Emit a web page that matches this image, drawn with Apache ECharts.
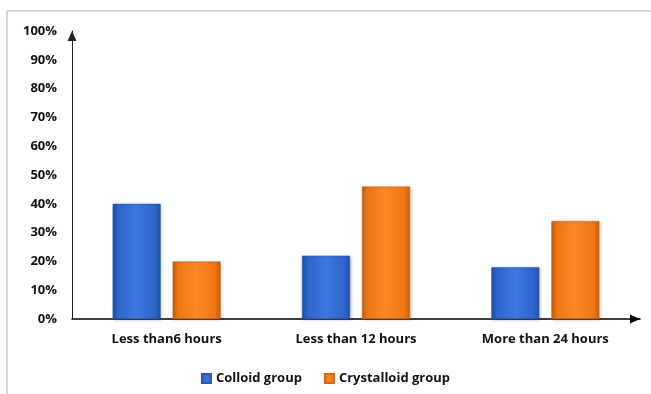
<!DOCTYPE html>
<html>
<head>
<meta charset="utf-8">
<script src="https://cdn.jsdelivr.net/npm/echarts@6/dist/echarts.min.js"></script>
<style>
  html, body { margin: 0; padding: 0; background: #fff; }
  #chart { width: 651px; height: 394px; }
</style>
</head>
<body>
<div id="chart"></div>
<script>
const categories = ['Less than6 hours', 'Less than 12 hours', 'More than 24 hours'];
const colloid = [40, 22, 18];
const crystalloid = [20, 46, 34];
const seriesNames = ['Colloid group', 'Crystalloid group'];

const FONT = '"Open Sans", "Liberation Sans", sans-serif';

function bevel(dark, mid, light) {
  return new echarts.graphic.LinearGradient(0, 0, 1, 0, [
    { offset: 0, color: dark },
    { offset: 0.12, color: mid },
    { offset: 0.5, color: light },
    { offset: 0.88, color: mid },
    { offset: 1, color: dark }
  ]);
}

const chart = echarts.init(document.getElementById('chart'));
chart.setOption({
  animation: false,
  backgroundColor: '#ffffff',
  graphic: [{
    type: 'rect',
    shape: { x: 7, y: 11, width: 700, height: 420 },
    style: { fill: 'none', stroke: '#b0b0b0', lineWidth: 1 },
    silent: true
  }],
  grid: { left: 72, right: 11, top: 31, bottom: 75 },
  legend: {
    data: seriesNames,
    bottom: 4,
    left: 'center',
    itemWidth: 9,
    itemHeight: 9,
    itemGap: 22,
    icon: 'rect',
    textStyle: { fontFamily: FONT, fontWeight: 'bold', fontSize: 13, color: '#111' }
  },
  xAxis: {
    type: 'category',
    data: categories,
    axisLine: { lineStyle: { color: '#000', width: 1.5 }, symbol: ['none', 'triangle'], symbolSize: [9, 10], symbolOffset: [0, -5] },
    axisTick: { show: false },
    axisLabel: { fontFamily: FONT, fontWeight: 'bold', fontSize: 13, color: '#111', margin: 14 }
  },
  yAxis: {
    type: 'value',
    min: 0,
    max: 100,
    interval: 10,
    axisLine: { show: true, lineStyle: { color: '#222', width: 1 }, symbol: ['none', 'triangle'], symbolSize: [9, 10], symbolOffset: [0, -5] },
    axisTick: { show: false },
    splitLine: { show: false },
    axisLabel: { fontFamily: FONT, fontWeight: 'bold', fontSize: 13, color: '#111', margin: 15, formatter: '{value}%' }
  },
  series: [
    {
      name: seriesNames[0],
      type: 'bar',
      data: colloid,
      barWidth: 48,
      barGap: '25%',
      itemStyle: {
        color: bevel('#1f4fa8', '#2f64cc', '#3d78e0'),
        borderColor: '#2a58b0',
        borderWidth: 0.5,
        shadowColor: 'rgba(0,0,0,0.25)',
        shadowBlur: 3,
        shadowOffsetX: 1,
        shadowOffsetY: 1
      }
    },
    {
      name: seriesNames[1],
      type: 'bar',
      data: crystalloid,
      barWidth: 48,
      itemStyle: {
        color: bevel('#c85e0e', '#ef7614', '#fb8a24'),
        borderColor: '#d06a14',
        borderWidth: 0.5,
        shadowColor: 'rgba(0,0,0,0.25)',
        shadowBlur: 3,
        shadowOffsetX: 1,
        shadowOffsetY: 1
      }
    }
  ]
});
</script>
</body>
</html>
